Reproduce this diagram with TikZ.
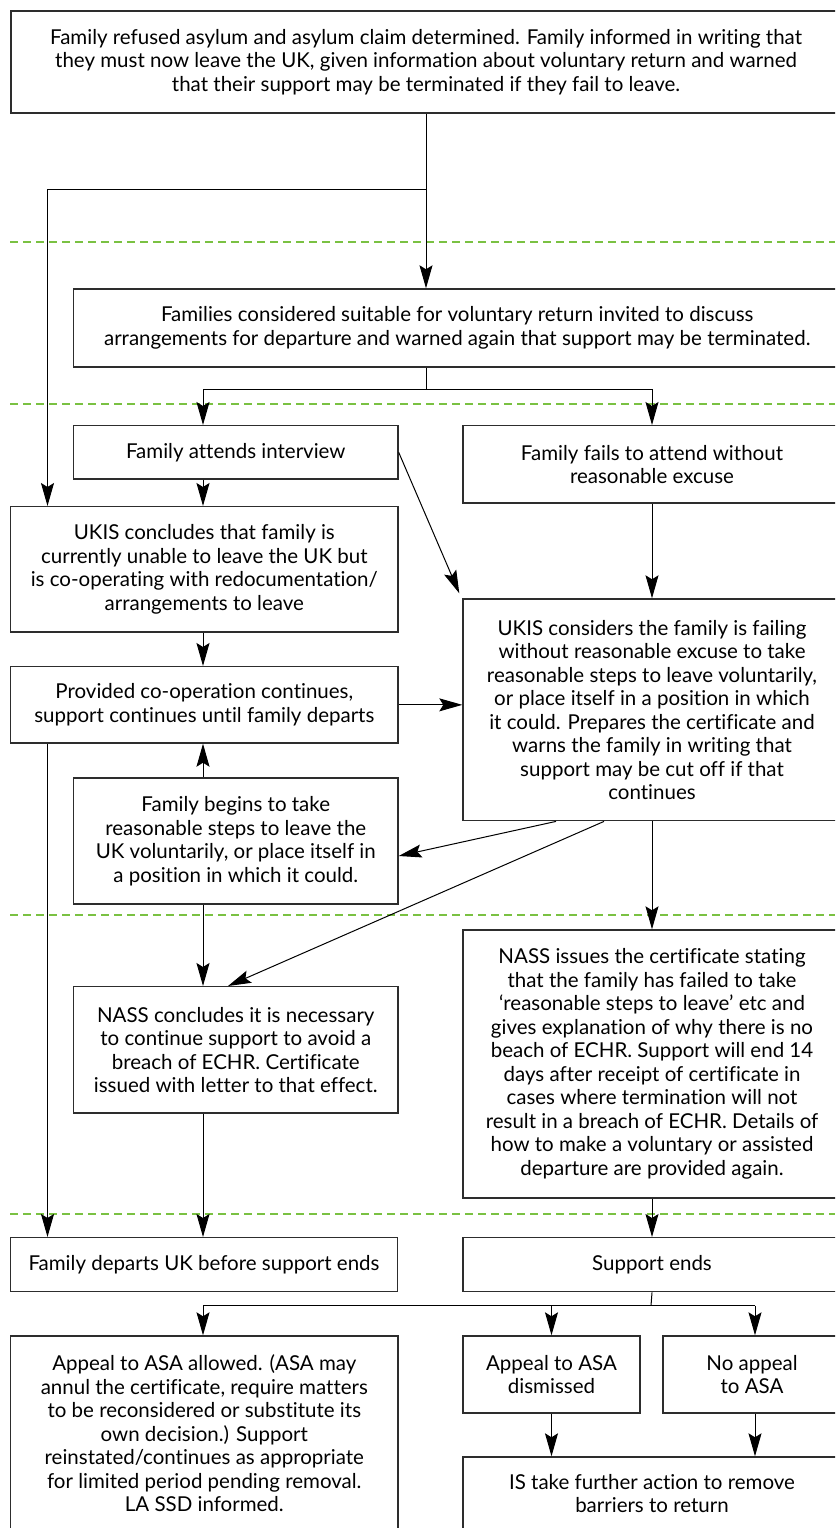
\documentclass[tikz,border=0pt]{standalone}
\usepackage{fontspec}
\setmainfont{Lato}[Ligatures=NoCommon]
\usetikzlibrary{arrows.meta,calc}
\definecolor{dashgreen}{RGB}{122,193,66}
\definecolor{boxline}{RGB}{45,45,45}
\tikzset{
  box/.style={draw=boxline, line width=1.4pt, align=center, inner sep=0pt,
    font=\fontsize{20.5}{23.5}\selectfont},
  arr/.style={line width=1pt, -{Stealth[length=23pt, width=13pt, inset=4pt]}},
  ln/.style={line width=1pt},
  sep/.style={dashgreen, line width=2.4pt, dash pattern=on 8pt off 5pt}
}
\begin{document}
\begin{tikzpicture}[x=1pt,y=-1pt]
\useasboundingbox (0,0) rectangle (835,1528);
\clip (0,0) rectangle (835,1528);
% separators
\foreach \yy in {242,404,915,1214} \draw[sep] (10,\yy) -- (835,\yy);
% boxes
\node[box, minimum width=830pt, minimum height=102pt] (A) at (426,62)
 {Family refused asylum and asylum claim determined. Family informed in writing that\\
  they must now leave the UK, given information about voluntary return and warned\\
  that their support may be terminated if they fail to leave.};
\node[box, minimum width=767.5pt, minimum height=78pt] (B) at (457.25,328)
 {Families considered suitable for voluntary return invited to discuss\\
  arrangements for departure and warned again that support may be terminated.};
\node[box, minimum width=324.5pt, minimum height=53.3pt] (C) at (235.75,452.35)
 {Family attends interview};
\node[box, minimum width=378pt, minimum height=77.3pt] (D) at (652,464.35)
 {Family fails to attend without\\ reasonable excuse};
\node[box, minimum width=387.4pt, minimum height=125.3pt] (E) at (204.3,569.35)
 {UKIS concludes that family is\\ currently unable to leave the UK but\\
  is co-operating with redocumentation/\\ arrangements to leave};
\node[box, minimum width=378pt, minimum height=221.7pt] (F) at (652,709.85)
 {UKIS considers the family is failing\\ without reasonable excuse to take\\
  reasonable steps to leave voluntarily,\\ or place itself in a position in which\\
  it could. Prepares the certificate and\\ warns the family in writing that\\
  support may be cut off if that\\ continues};
\node[box, minimum width=387.4pt, minimum height=76.3pt] (G) at (204.3,704.85)
 {Provided co-operation continues,\\ support continues until family departs};
\node[box, minimum width=324.5pt, minimum height=126pt] (H) at (235.75,841)
 {Family begins to take\\ reasonable steps to leave the\\ UK voluntarily, or place itself in\\
  a position in which it could.};
\node[box, minimum width=324.5pt, minimum height=126.3pt] (I) at (235.75,1049.85)
 {NASS concludes it is necessary\\ to continue support to avoid a\\ breach of ECHR. Certificate\\
  issued with letter to that effect.};
\node[box, minimum width=378pt, minimum height=268pt] (J) at (652,1064)
 {NASS issues the certificate stating\\ that the family has failed to take\\
  `reasonable steps to leave' etc and\\ gives explanation of why there is no\\
  beach of ECHR. Support will end 14\\ days after receipt of certificate in\\
  cases where termination will not\\ result in a breach of ECHR. Details of\\
  how to make a voluntary or assisted\\ departure are provided again.};
\node[box, minimum width=387pt, minimum height=54pt] (K) at (204,1264.7)
 {Family departs UK before support ends};
\node[box, minimum width=378pt, minimum height=54pt] (L) at (652,1264.7)
 {Support ends};
\node[box, minimum width=387.4pt, minimum height=195pt] (M) at (204.3,1433.5)
 {Appeal to ASA allowed. (ASA may\\ annul the certificate, require matters\\
  to be reconsidered or substitute its\\ own decision.) Support\\
  reinstated/continues as appropriate\\ for limited period pending removal.\\ LA SSD informed.};
\node[box, minimum width=177pt, minimum height=77pt] (N) at (551.5,1374.5)
 {Appeal to ASA\\ dismissed};
\node[box, minimum width=178pt, minimum height=77pt] (O) at (752,1374.5)
 {No appeal\\ to ASA};
\node[box, minimum width=378pt, minimum height=73pt] (P) at (652,1493.5)
 {IS take further action to remove\\ barriers to return};
% junction coordinates
\coordinate (j1) at (426,189);
\coordinate (j2) at (426,389);
\coordinate (j3) at (651,1305.7);
\coordinate (xl) at (47.5,0);
\coordinate (xm) at (203,0);
% connectors
\draw[arr] (A.south) -- (A.south |- B.north);
\draw[ln] (j1) -- (j1 -| xl);
\draw[arr] (j1 -| xl) -- (xl |- E.north);
\draw[ln] (B.south -| j2) -- (j2);
\draw[ln] (j2 -| xm) -- (j2 -| D.north);
\draw[arr] (j2 -| xm) -- (xm |- C.north);
\draw[arr] (j2 -| D.north) -- (D.north);
\draw[arr] (xm |- C.south) -- (xm |- E.north);
\draw[arr] (C.east) -- ([xshift=-3pt,yshift=5pt]F.north west);
\draw[arr] (D.south) -- (F.north);
\draw[arr] (xm |- E.south) -- (xm |- G.north);
\draw[arr] (G.east) -- (G.east -| F.west);
\draw[arr] (xm |- H.north) -- (xm |- G.south);
\draw[arr] (F.south -| 556,0) -- ([yshift=-15pt]H.east);
\draw[arr] (F.south -| 604,0) -- (I.north -| 228,0);
\draw[arr] (F.south) -- (J.north);
\draw[arr] (xm |- H.south) -- (xm |- I.north);
\draw[arr] (xl |- G.south) -- (xl |- K.north);
\draw[arr] (xm |- I.south) -- (xm |- K.north);
\draw[arr] (J.south) -- (L.north);
\draw[ln] (L.south) -- (j3);
\draw[ln] (j3 -| xm) -- (j3 -| 755,0);
\draw[arr] (j3 -| xm) -- (xm |- M.north);
\draw[arr] (j3 -| N.north) -- (N.north);
\draw[arr] (j3 -| 755,0) -- (O.north -| 755,0);
\draw[arr] (N.south) -- (N.south |- P.north);
\draw[arr] (O.south -| 755,0) -- (P.north -| 755,0);
\end{tikzpicture}
\end{document}
